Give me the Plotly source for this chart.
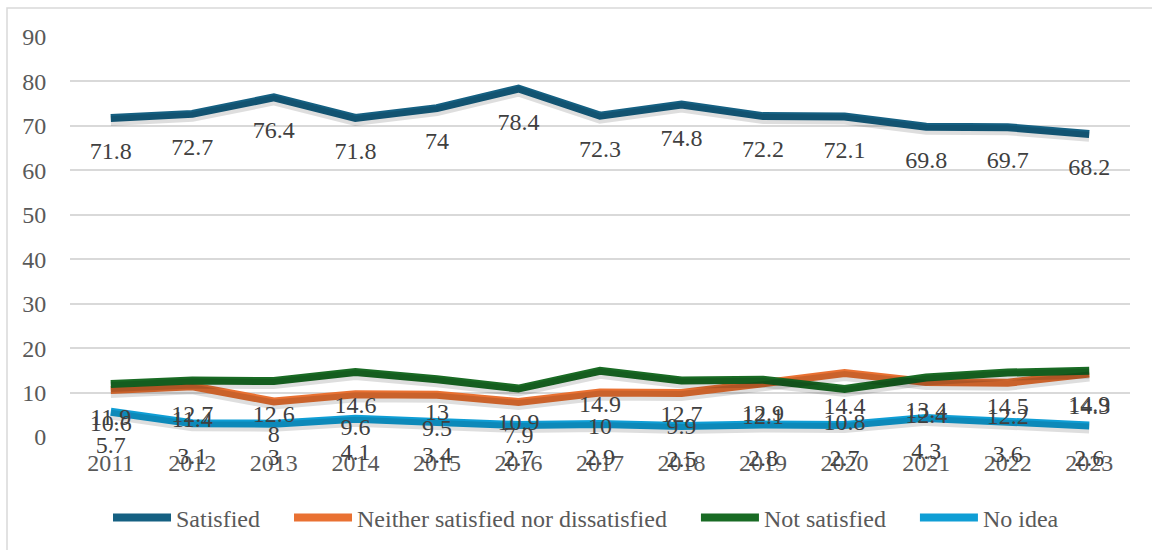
import plotly.graph_objects as go

# Survey responses by year (%)
years = ["2011", "2012", "2013", "2014", "2015", "2016", "2017",
         "2018", "2019", "2020", "2021", "2022", "2023"]
satisfied = [71.8, 72.7, 76.4, 71.8, 74, 78.4, 72.3, 74.8, 72.2, 72.1, 69.8, 69.7, 68.2]
neither = [10.6, 11.4, 8, 9.6, 9.5, 7.9, 10, 9.9, 12.1, 14.4, 12.4, 12.2, 14.3]
not_satisfied = [11.9, 12.7, 12.6, 14.6, 13, 10.9, 14.9, 12.7, 12.9, 10.8, 13.4, 14.5, 14.9]
no_idea = [5.7, 3.1, 3, 4.1, 3.4, 2.7, 2.9, 2.5, 2.8, 2.7, 4.3, 3.6, 2.6]

series = [
    ("Satisfied", satisfied, "#156082"),
    ("Neither satisfied nor dissatisfied", neither, "#E97132"),
    ("Not satisfied", not_satisfied, "#196B24"),
    ("No idea", no_idea, "#0F9ED5"),
]

FONT = "Liberation Serif"
FS = 24
W, H = 1152, 550
M_L, M_R, M_T = 70, 22, 37
PLOT_BOTTOM = 437            # pixel row of the value axis zero line
Y_MAX = 90
PLOT_H = PLOT_BOTTOM - M_T
u_per_px = Y_MAX / PLOT_H
SHADOW_PX = 3
LABEL_PX = 35                # value labels sit this far below their point

paper_h = H - M_T
main_dom0 = (H - PLOT_BOTTOM) / paper_h
label_top_px = M_T + LABEL_PX
label_dom1 = (H - label_top_px) / paper_h
label_ymin = -(H - PLOT_BOTTOM - LABEL_PX) * u_per_px

fig = go.Figure()

# soft drop shadow under each line (same data on a slightly offset axis)
for name, vals, color in series:
    fig.add_trace(go.Scatter(
        x=years, y=vals, mode="lines", yaxis="y2",
        line=dict(color="rgba(0,0,0,0.13)", width=10),
        hoverinfo="skip", showlegend=False,
    ))

pad = "\u00a0" * 4
for i, (name, vals, color) in enumerate(series):
    fig.add_trace(go.Scatter(
        x=years, y=vals, mode="lines",
        name=name + (pad if i < len(series) - 1 else ""),
        line=dict(color=color, width=8),
    ))

# value labels on an axis shifted down by LABEL_PX
for name, vals, color in series:
    fig.add_trace(go.Scatter(
        x=years, y=vals, mode="text", yaxis="y3",
        text=[f"{v:g}" for v in vals], textposition="middle center",
        textfont=dict(family=FONT, size=FS, color="#404040"),
        cliponaxis=False, hoverinfo="skip", showlegend=False,
    ))

fig.update_layout(
    width=W, height=H,
    margin=dict(l=M_L, r=M_R, t=M_T, b=0, autoexpand=False),
    paper_bgcolor="white", plot_bgcolor="rgba(0,0,0,0)",
    font=dict(family=FONT, size=FS, color="#595959"),
    xaxis=dict(
        type="category", range=[-0.5, len(years) - 0.5],
        showgrid=False, zeroline=False, showline=False,
        ticks="outside", ticklen=4, tickcolor="rgba(0,0,0,0)",
        tickfont=dict(family=FONT, size=FS, color="#595959"),
        automargin=False,
    ),
    yaxis=dict(
        domain=[main_dom0, 1], range=[0, Y_MAX], dtick=10,
        showgrid=True, gridcolor="#d9d9d9", gridwidth=1.5,
        zeroline=False, showline=False,
        ticks="outside", ticklen=18, tickcolor="rgba(0,0,0,0)",
        tickfont=dict(family=FONT, size=FS, color="#595959"),
        automargin=False,
    ),
    yaxis2=dict(
        overlaying="y", visible=False,
        range=[SHADOW_PX * u_per_px, Y_MAX + SHADOW_PX * u_per_px],
    ),
    yaxis3=dict(
        domain=[0, label_dom1], range=[label_ymin, Y_MAX],
        anchor="free", position=0, visible=False,
    ),
    legend=dict(
        orientation="h", x=0.4868, xanchor="center",
        y=(H - 518) / paper_h, yanchor="middle",
        font=dict(family=FONT, size=FS, color="#595959"),
        itemwidth=58, traceorder="normal",
    ),
    shapes=[dict(
        type="rect", xref="paper", yref="paper",
        x0=(7 - M_L) / (W - M_L - M_R), x1=1.06,
        y0=-0.1, y1=(H - 8) / paper_h,
        line=dict(color="#d9d9d9", width=1.5), layer="below",
    )],
    showlegend=True,
)

fig.write_html("out.html")
